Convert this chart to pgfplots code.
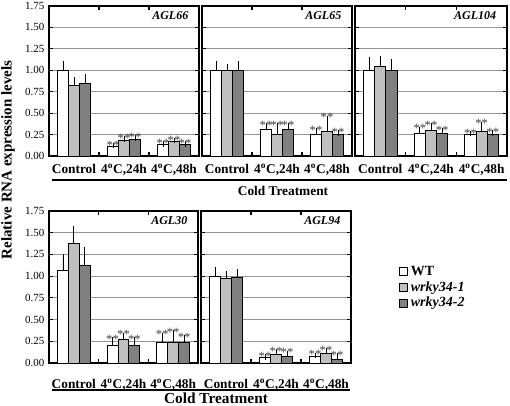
\documentclass[border=0pt]{standalone}
\usepackage{fontspec}
\setmainfont{Liberation Serif}
\usepackage{pgfplots}
\usepackage{pgfplotstable}
\pgfplotsset{compat=1.18}

\definecolor{lg}{HTML}{C0C0C0}
\definecolor{dg}{HTML}{808080}

\pgfplotstableread{
x wt ewt m1 em1 m2 em2
0 1.00 0.08 0.82 0.07 0.85 0.07
1 0.11 0.01 0.18 0.02 0.19 0.02
2 0.13 0.01 0.17 0.01 0.13 0.01
}\tabA
\pgfplotstableread{
x wt ewt m1 em1 m2 em2
0 1.00 0.08 1.00 0.04 1.00 0.08
1 0.31 0.04 0.25 0.10 0.31 0.04
2 0.25 0.04 0.29 0.15 0.25 0.02
}\tabB
\pgfplotstableread{
x wt ewt m1 em1 m2 em2
0 1.00 0.12 1.04 0.10 1.00 0.10
1 0.26 0.05 0.30 0.05 0.26 0.03
2 0.25 0.01 0.29 0.08 0.25 0.02
}\tabC
\pgfplotstableread{
x wt ewt m1 em1 m2 em2
0 1.06 0.16 1.38 0.17 1.12 0.18
1 0.20 0.07 0.27 0.05 0.20 0.07
2 0.24 0.08 0.24 0.11 0.24 0.05
}\tabD
\pgfplotstableread{
x wt ewt m1 em1 m2 em2
0 1.00 0.07 0.97 0.06 0.99 0.06
1 0.06 0.01 0.10 0.03 0.08 0.03
2 0.08 0.01 0.11 0.03 0.04 0.04
}\tabE

\tikzset{gene/.style={anchor=east, font=\bfseries\itshape\fontsize{9}{9}\selectfont}}

\pgfplotsset{
  panel/.style={
    scale only axis, anchor=south west,
    xmin=-0.5, xmax=2.5, ymin=0, ymax=1.75,
    ytick={0,0.25,...,1.75},
    ymajorgrids, grid style={black!42, line width=0.9pt},
    axis line style={line width=1pt},
    major tick length=3pt,
    tick style={black, line width=0.8pt},
    xtick={0.5,1.5}, xticklabels={},
    extra x ticks={0,1,2},
    extra x tick labels={Control,{4\textsuperscript{o}C,24h},{4\textsuperscript{o}C,48h}},
    extra x tick style={major tick length=0pt, tick style={draw=none}},
    xticklabel style={font=\bfseries\fontsize{10}{10}\selectfont},
    yticklabel style={font=\fontsize{8.2}{8.2}\selectfont,
      /pgf/number format/.cd, fixed, fixed zerofill, precision=2, assume math mode=true},
    clip=false,
  },
  barbase/.style={ybar, bar width=0.22, bar shift=0pt, draw=black, line width=0.7pt,
    error bars/y dir=plus, error bars/y explicit,
    error bars/error bar style={line width=0.6pt, black},
    error bars/error mark options={black, mark size=2pt, line width=0.6pt}},
  wtbar/.style={barbase, fill=white,
    legend image code/.code={\draw[fill=white,draw=black,line width=0.7pt](0pt,-3pt) rectangle (6pt,3pt);}},
  m1bar/.style={barbase, fill=lg,
    legend image code/.code={\draw[fill=lg,draw=black,line width=0.7pt](0pt,-3pt) rectangle (6pt,3pt);}},
  m2bar/.style={barbase, fill=dg,
    legend image code/.code={\draw[fill=dg,draw=black,line width=0.7pt](0pt,-3pt) rectangle (6pt,3pt);}},
  stars/.style={forget plot, draw=none, skip coords between index={0}{1},
    nodes near coords={**},
    nodes near coords style={font=\fontsize{9.5}{9.5}\selectfont, text=black!75, inner sep=0pt, anchor=base, yshift=-2.6pt}},
}

\newcommand\panelplots[1]{%
  \addplot[wtbar] table[x expr=\thisrow{x}-0.22,y=wt,y error=ewt]{#1};
  \addplot[m1bar] table[x expr=\thisrow{x},y=m1,y error=em1]{#1};
  \addplot[m2bar] table[x expr=\thisrow{x}+0.22,y=m2,y error=em2]{#1};
  \addplot[stars] table[x expr=\thisrow{x}-0.22, y expr=\thisrow{wt}+\thisrow{ewt}]{#1};
  \addplot[stars] table[x expr=\thisrow{x}, y expr=\thisrow{m1}+\thisrow{em1}]{#1};
  \addplot[stars] table[x expr=\thisrow{x}+0.22, y expr=\thisrow{m2}+\thisrow{em2}]{#1};
}

\begin{document}
\begin{tikzpicture}
\useasboundingbox (0,0) rectangle (382.5pt,-304.5pt);

% top row
\begin{axis}[panel, at={(36.75pt,-117pt)}, width=112.5pt, height=112.5pt,
  xticklabel style={yshift=-2.5pt}]
  \panelplots{\tabA}
  \node[gene] at (rel axis cs:0.96,0.935) {AGL66};
\end{axis}
\begin{axis}[panel, at={(151.5pt,-117pt)}, width=112.5pt, height=112.5pt,
  yticklabels={}, xticklabel style={yshift=-2.5pt}]
  \panelplots{\tabB}
  \node[gene] at (rel axis cs:0.96,0.935) {AGL65};
\end{axis}
\begin{axis}[panel, at={(266.25pt,-117pt)}, width=114pt, height=112.5pt,
  yticklabels={}, xticklabel style={yshift=-2.5pt}]
  \panelplots{\tabC}
  \node[gene] at (rel axis cs:0.96,0.935) {AGL104};
\end{axis}

% bottom row
\begin{axis}[panel, at={(36.75pt,-272.25pt)}, width=111.75pt, height=114pt,
  xticklabel style={yshift=-8.5pt}]
  \panelplots{\tabD}
  \node[gene] at (rel axis cs:0.96,0.935) {AGL30};
\end{axis}
\begin{axis}[panel, at={(150.75pt,-272.25pt)}, width=112.5pt, height=114pt,
  yticklabels={}, xticklabel style={yshift=-8.5pt},
  legend entries={WT,\textit{wrky34-1},\textit{wrky34-2}},
  legend style={at={(1.32,0.655)}, anchor=north west, draw=none, fill=none,
    font=\bfseries\fontsize{10.5}{11}\selectfont, row sep=-1pt, inner sep=0pt},
  legend cell align=left]
  \panelplots{\tabE}
  \node[gene] at (rel axis cs:0.96,0.935) {AGL94};
\end{axis}

% annotations
\node[rotate=90, font=\bfseries\fontsize{11.25}{12}\selectfont] at (6pt,-120pt) {Relative RNA expression levels};
\draw[line width=1pt] (39pt,-135pt) -- (380.25pt,-135pt);
\node[font=\bfseries\fontsize{10}{10}\selectfont] at (212.25pt,-143.25pt) {Cold Treatment};
\draw[line width=1pt] (39pt,-292.5pt) -- (262.5pt,-292.5pt);
\node[font=\bfseries\fontsize{11.5}{11.5}\selectfont, inner sep=0pt, anchor=base] at (162pt,-302.5pt) {Cold Treatment};
\end{tikzpicture}
\end{document}
